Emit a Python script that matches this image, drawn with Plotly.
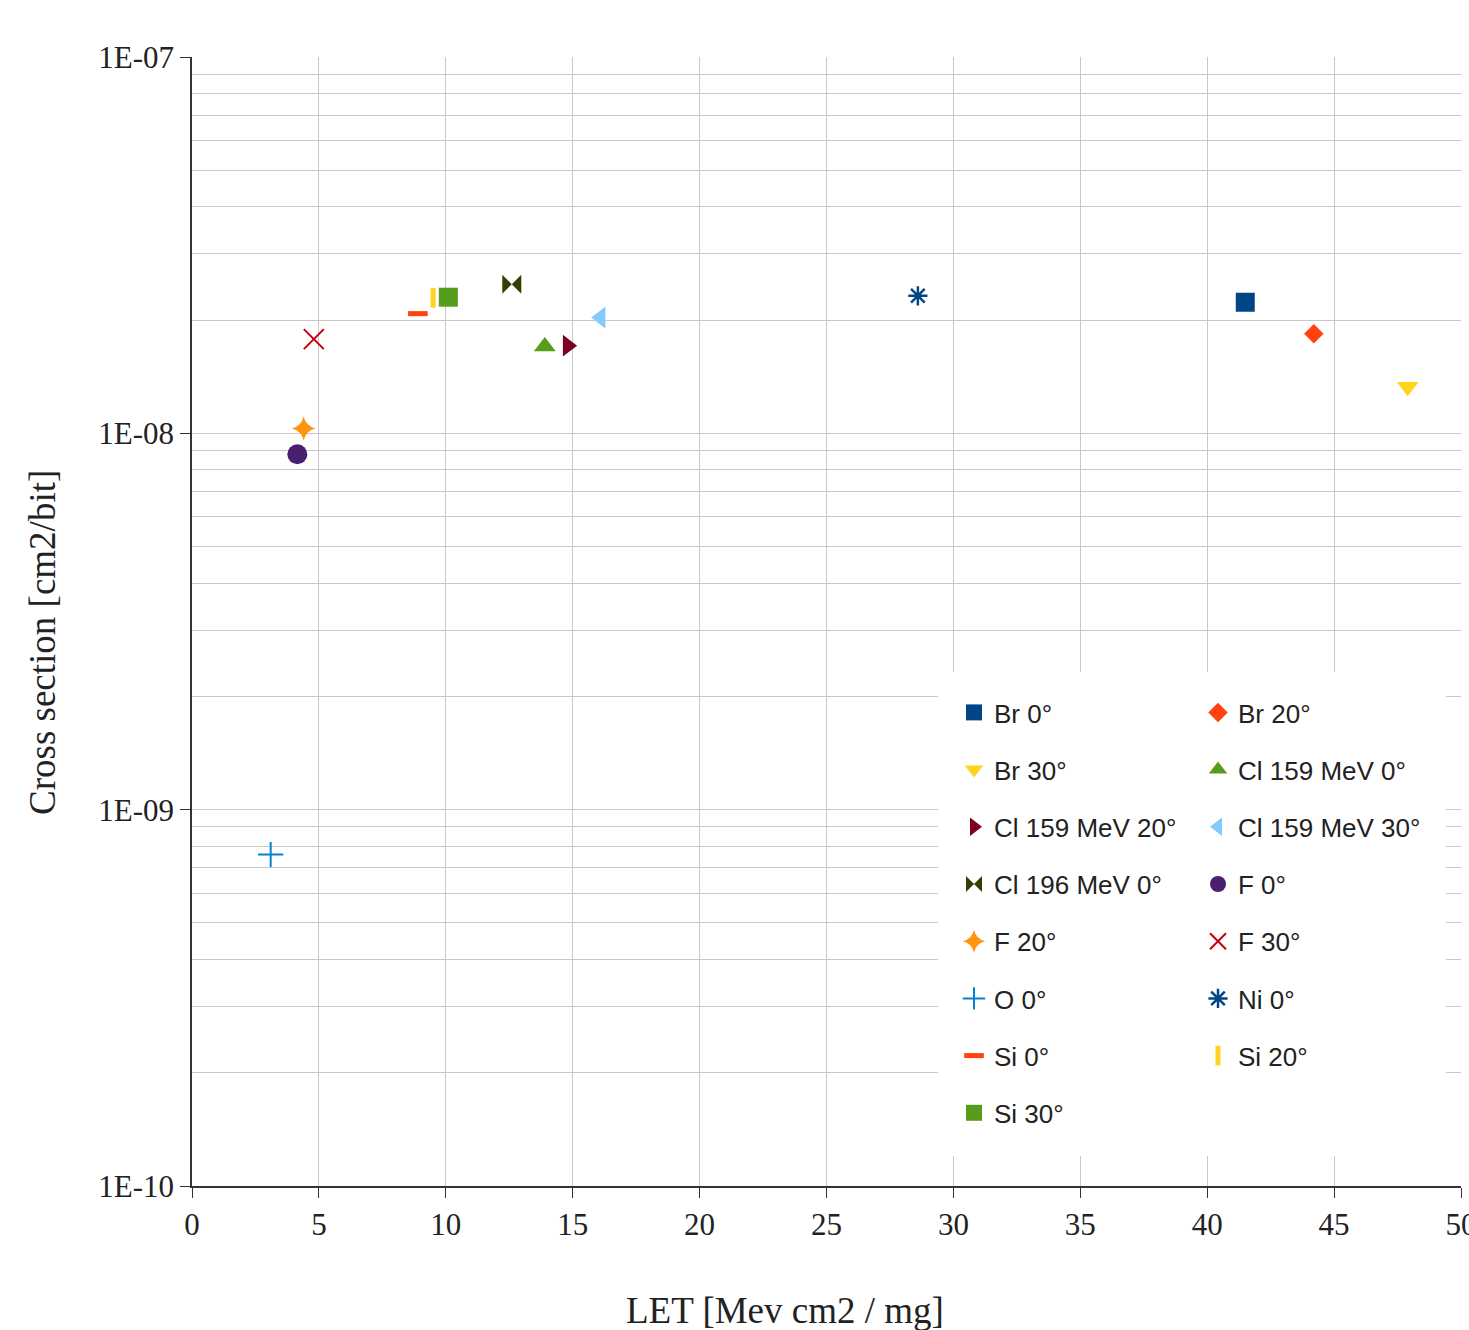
import plotly.graph_objects as go

# ---- data ----
names = ["Br 0°", "Br 20°", "Br 30°", "Cl 159 MeV 0°", "Cl 159 MeV 20°", "Cl 159 MeV 30°",
         "Cl 196 MeV 0°", "F 0°", "F 20°", "F 30°", "O 0°", "Ni 0°", "Si 0°", "Si 20°", "Si 30°"]
let_values = [41.5, 44.2, 47.9, 13.9, 14.8, 16.1, 12.6, 4.15, 4.4, 4.8, 3.1, 28.6, 8.9, 9.5, 10.1]
cross_section = [2.23e-8, 1.84e-8, 1.33e-8, 1.70e-8, 1.71e-8, 2.03e-8, 2.49e-8, 8.8e-9,
                 1.03e-8, 1.78e-8, 7.6e-10, 2.32e-8, 2.08e-8, 2.29e-8, 2.30e-8]
colors = ["#004586", "#ff420e", "#ffd320", "#579d1c", "#7e0021", "#83caff", "#314004",
          "#4b1f6f", "#ff950e", "#c5000b", "#0084d1", "#004586", "#ff420e", "#ffd320", "#579d1c"]
symbols = ["square", "diamond", "triangle-down", "triangle-up", "triangle-right", "triangle-left",
           "bowtie", "circle", "star-diamond", "x-thin-open", "cross-thin-open", "asterisk-open",
           "line-ew-open", "line-ns-open", "square"]
sizes = [19, 15, 19, 19, 19, 19, 19, 20, 17, 20, 18, 16, 14, 14, 19]
line_widths = [0, 0, 0, 0, 0, 0, 0, 0, 0, 2, 2, 2.5, 5, 5, 0]
legend_col = [1, 2, 1, 2, 1, 2, 1, 2, 1, 2, 1, 2, 1, 2, 1]

y_tickvals = [1e-10, 1e-9, 1e-8, 1e-7]
y_ticktext = ["1E-10", "1E-09", "1E-08", "1E-07"]
x_tickvals = [0, 5, 10, 15, 20, 25, 30, 35, 40, 45, 50]

W, H = 1469, 1330
L, R, T, B = 192, 8, 57, 144
pw, ph = W - L - R, H - T - B

fig = go.Figure()
for i, n in enumerate(names):
    fig.add_trace(go.Scatter(
        x=[let_values[i]], y=[cross_section[i]], mode="markers", name=n,
        legend="legend" if legend_col[i] == 1 else "legend2",
        legendgroup=n,
        marker=dict(symbol=symbols[i], size=sizes[i], color=colors[i],
                    line=dict(color=colors[i], width=line_widths[i])),
    ))

def px_x(p):
    return (p - L) / pw

def px_y(p):
    return 1 - (p - T) / ph

grid = "#c8c8c8"
serif = "Liberation Serif"

leg_common = dict(
    bgcolor="rgba(255,255,255,0)", borderwidth=0,
    font=dict(family="Liberation Sans", size=26, color="#222222"),
    itemwidth=30, tracegroupgap=20.4, xanchor="left", yanchor="top",
    itemclick=False,
)

fig.update_layout(
    width=W, height=H,
    margin=dict(l=L, r=R, t=T, b=B),
    paper_bgcolor="white", plot_bgcolor="white",
    showlegend=True,
    legend=dict(x=px_x(954), y=px_y(689), **leg_common),
    legend2=dict(x=px_x(1198), y=px_y(689), **leg_common),
    xaxis=dict(
        range=[0, 50], tickmode="array", tickvals=x_tickvals,
        showgrid=True, gridcolor=grid, gridwidth=1,
        showline=True, linecolor="#333333", linewidth=1.5,
        ticks="outside", ticklen=10, tickcolor="#333333",
        tickfont=dict(family=serif, size=31, color="#222222"),
        ticklabeloverflow="allow",
        zeroline=False, automargin=False,
    ),
    yaxis=dict(
        type="log", range=[-10, -7], tickmode="array",
        tickvals=y_tickvals, ticktext=y_ticktext,
        showgrid=True, gridcolor=grid, gridwidth=1,
        minor=dict(dtick="D1", showgrid=True, gridcolor=grid, gridwidth=1, ticks=""),
        showline=True, linecolor="#333333", linewidth=1.5,
        ticks="outside", ticklen=10, tickcolor="#333333",
        tickfont=dict(family=serif, size=31, color="#222222"),
        zeroline=False, automargin=False,
    ),
    shapes=[dict(type="rect", xref="paper", yref="paper",
                 x0=px_x(938), x1=px_x(1446), y0=px_y(1156), y1=px_y(672),
                 fillcolor="white", line=dict(width=0), layer="above")],
    annotations=[
        dict(text="LET [Mev cm2 / mg]", xref="paper", yref="paper",
             x=px_x(785), y=px_y(1310), xanchor="center", yanchor="middle",
             showarrow=False, font=dict(family=serif, size=37, color="#222222")),
        dict(text="Cross section [cm2/bit]", xref="paper", yref="paper",
             x=px_x(42), y=px_y(643), xanchor="center", yanchor="middle", textangle=-90,
             showarrow=False, font=dict(family=serif, size=37, color="#222222")),
    ],
)

fig.write_html("out.html", config={"displayModeBar": False},
               post_script="document.body.style.margin='0';")
